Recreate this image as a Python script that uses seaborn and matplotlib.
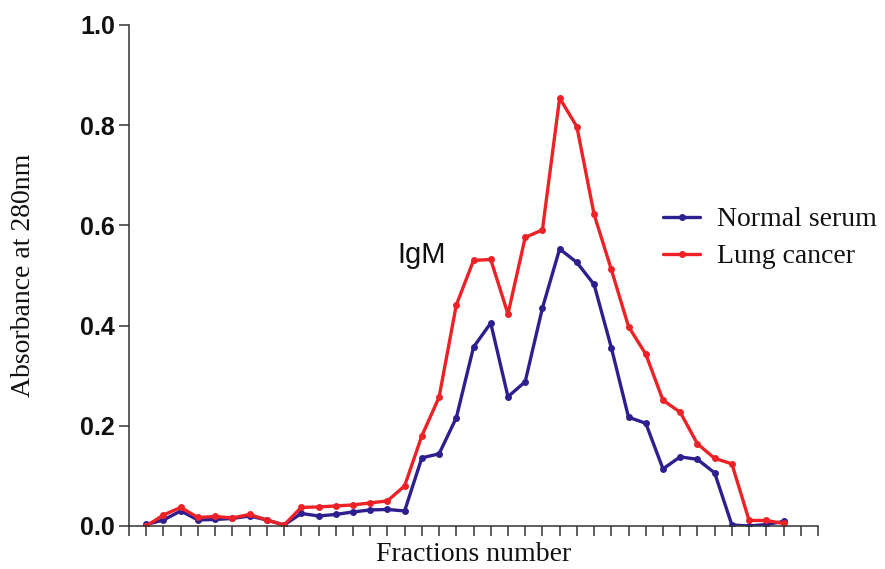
import numpy as np
import pandas as pd
import matplotlib
matplotlib.use("Agg")
import matplotlib.pyplot as plt
import seaborn as sns

# 数据
fractions = list(range(1, 39))
normal_serum = [0.003, 0.012, 0.030, 0.012, 0.013, 0.015, 0.020, 0.012, 0.002, 0.025,
                0.020, 0.023, 0.028, 0.032, 0.033, 0.030, 0.136, 0.144, 0.216, 0.357,
                0.405, 0.258, 0.288, 0.435, 0.553, 0.526, 0.482, 0.356, 0.217, 0.205,
                0.114, 0.138, 0.133, 0.106, 0.002, 0.000, 0.003, 0.009]
lung_cancer = [0.000, 0.022, 0.037, 0.017, 0.019, 0.016, 0.023, 0.012, 0.002, 0.037,
               0.038, 0.040, 0.042, 0.046, 0.050, 0.080, 0.180, 0.257, 0.441, 0.530,
               0.532, 0.423, 0.576, 0.591, 0.854, 0.797, 0.622, 0.512, 0.398, 0.343,
               0.251, 0.227, 0.164, 0.135, 0.124, 0.011, 0.011, 0.005]
series_names = ["Normal serum", "Lung cancer"]
colors = ["#2E1F8F", "#EC2227"]
y_ticks = [0.0, 0.2, 0.4, 0.6, 0.8, 1.0]

df = pd.DataFrame({"fraction": fractions,
                   "Normal serum": normal_serum,
                   "Lung cancer": lung_cancer})
df_long = df.melt(id_vars="fraction", var_name="sample", value_name="absorbance")

sns.set_style("ticks")
plt.rcParams["font.family"] = ["Liberation Serif", "DejaVu Serif"]

fig = plt.figure(figsize=(8.85, 5.69), dpi=100)
ax = fig.add_axes([0.1458, 0.0756, 0.7785, 0.8805])

sns.lineplot(data=df_long, x="fraction", y="absorbance", hue="sample",
             hue_order=series_names, palette=colors, marker="o",
             markersize=5, markeredgewidth=0, linewidth=2.4, ax=ax)

ax.set_xlim(0, 40)
ax.set_ylim(0, 1.0)
ax.set_xticks(range(0, 41))
ax.set_xticklabels([])
ax.set_yticks(y_ticks)
ax.set_yticklabels([f"{t:.1f}" for t in y_ticks],
                   fontfamily="Liberation Sans", fontweight="bold", fontsize=18)

for s in ["top", "right"]:
    ax.spines[s].set_visible(False)
for s in ["left", "bottom"]:
    ax.spines[s].set_linewidth(1.1)
    ax.spines[s].set_color("#333333")
ax.tick_params(axis="x", direction="out", length=7, width=1.1, color="#333333")
ax.tick_params(axis="y", direction="out", length=7, width=1.1, color="#333333",
               pad=3, labelcolor="#111111")

ax.set_xlabel("Fractions number", fontsize=20, color="#111111")
ax.set_ylabel("Absorbance at 280nm", fontsize=20, color="#111111")
ax.xaxis.set_label_coords(0.5, -0.032)
ax.yaxis.set_label_coords(-0.135, 0.5)

ax.text(15.6, 0.525, "IgM", fontfamily="Liberation Sans", fontsize=21,
        ha="left", va="baseline", color="#111111")

leg = ax.legend(loc="upper left", bbox_to_anchor=(0.775, 0.637), frameon=False,
                fontsize=20, handlelength=1.35, handletextpad=0.6,
                labelspacing=0.42, borderpad=0, borderaxespad=0)
for t in leg.get_texts():
    t.set_color("#111111")

fig.savefig("out.png", dpi=100)
